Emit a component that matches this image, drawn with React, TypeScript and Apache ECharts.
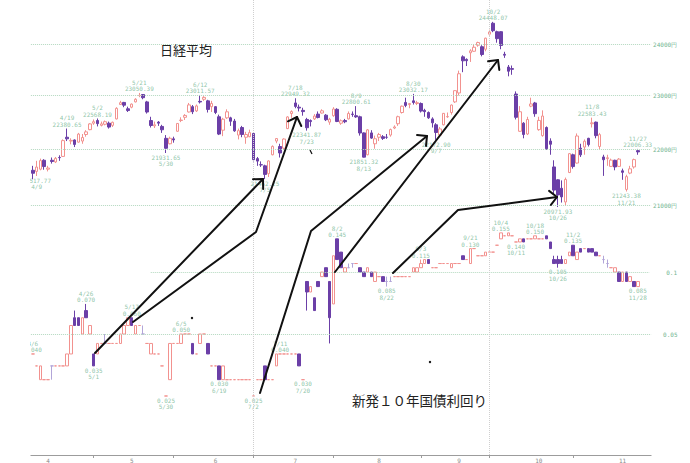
import React, { useEffect, useRef } from 'react';
import * as echarts from 'echarts';

// Trading days (categories)
const dates = [
  '4/6','4/9','4/10','4/11','4/12','4/13','4/16','4/17','4/18','4/19','4/20','4/23','4/24','4/25','4/26','4/27',
  '5/1','5/2','5/7','5/8','5/9','5/10','5/11','5/14','5/15','5/16','5/17','5/18','5/21','5/22','5/23','5/24','5/25','5/28','5/29','5/30','5/31',
  '6/1','6/4','6/5','6/6','6/7','6/8','6/11','6/12','6/13','6/14','6/15','6/18','6/19','6/20','6/21','6/22','6/25','6/26','6/27','6/28','6/29',
  '7/2','7/3','7/4','7/5','7/6','7/9','7/10','7/11','7/12','7/13','7/17','7/18','7/19','7/20','7/23','7/24','7/25','7/26','7/27','7/30','7/31',
  '8/1','8/2','8/3','8/6','8/7','8/8','8/9','8/10','8/13','8/14','8/15','8/16','8/17','8/20','8/21','8/22','8/23','8/24','8/27','8/28','8/29','8/30','8/31',
  '9/3','9/4','9/5','9/6','9/7','9/10','9/11','9/12','9/13','9/14','9/18','9/19','9/20','9/21','9/25','9/26','9/27','9/28',
  '10/1','10/2','10/3','10/4','10/5','10/9','10/10','10/11','10/12','10/15','10/16','10/17','10/18','10/19','10/22','10/23','10/24','10/25','10/26','10/29','10/30','10/31',
  '11/1','11/2','11/5','11/6','11/7','11/8','11/9','11/12','11/13','11/14','11/15','11/16','11/19','11/20','11/21','11/22','11/26','11/27','11/28','11/29','11/30',
];

// Nikkei 225 daily [open, close, low, high]
const nikkeiCandles = [
  [21620,21567,21460,21700],[21600,21678,21517.77,21790],[21640,21794,21620,21830],[21800,21687,21630,21820],
  [21640,21660,21600,21700],[21800,21778,21740,21850],[21770,21835,21750,21860],[21850,21847,21790,21890],
  [21870,22158,21860,22180],[22220,22191,22150,22380.65],[22150,22162,22090,22200],[22170,22088,22040,22180],
  [22130,22278,22120,22300],[22150,22215,22100,22280],[22270,22319,22230,22350],[22360,22467,22350,22480],
  // May
  [22480,22508,22450,22550],[22530,22472,22420,22568.19],[22440,22467,22420,22510],[22460,22508,22440,22530],
  [22480,22408,22380,22510],[22440,22497,22410,22510],[22560,22758,22550,22780],[22830,22865,22830,22900],
  [22870,22818,22780,22880],[22750,22717,22690,22790],[22780,22838,22760,22850],[22880,22930,22870,22950],
  [23000,23002,22970,23050.39],[23020,22960,22930,23030],[22880,22689,22660,22900],[22530,22437,22400,22600],
  [22430,22450,22390,22510],[22500,22481,22430,22520],[22420,22358,22300,22450],[22200,22018,21931.65,22260],
  [22100,22201,22090,22230],
  // June
  [22190,22171,22120,22230],[22330,22475,22320,22480],[22530,22539,22500,22590],[22590,22625,22540,22650],
  [22690,22823,22680,22860],[22790,22694,22650,22820],[22710,22804,22690,22830],[22890,22878,22850,23011.57],
  [22930,22966,22900,22990],[22900,22738,22680,22920],[22790,22851,22690,22900],[22790,22680,22650,22800],
  [22600,22278,22260,22640],[22350,22555,22240,22580],[22580,22693,22560,22740],[22580,22516,22430,22600],
  [22520,22338,22320,22560],[22260,22342,22180,22380],[22400,22271,22220,22430],[22220,22270,22100,22320],
  [22230,22305,22220,22360],
  // July
  [22290,21811,21780,22300],[21830,21785,21700,21860],[21720,21717,21680,21780],[21700,21546,21462.25,21720],
  [21560,21788,21500,21800],[21900,22052,21890,22070],[22150,22196,22110,22200],[22050,21932,21850,22100],
  [22020,22187,21990,22200],[22380,22597,22370,22610],[22660,22697,22580,22720],[22860,22794,22760,22949.32],
  [22780,22764,22700,22830],[22720,22697,22620,22770],[22550,22396,22341.87,22580],[22530,22510,22420,22550],
  [22560,22614,22540,22650],[22650,22586,22570,22700],[22670,22712,22660,22740],[22630,22544,22520,22650],
  [22500,22553,22450,22580],
  // August
  [22620,22746,22600,22780],[22740,22512,22500,22760],[22480,22525,22450,22550],[22530,22507,22480,22560],
  [22560,22662,22550,22700],[22650,22644,22600,22700],[22620,22598,22580,22800.61],[22600,22298,22250,22620],
  [22300,21857,21851.32,22310],[21900,22356,21890,22370],[22300,22204,22190,22350],[22100,22192,22010,22250],
  [22220,22270,22150,22300],[22230,22199,22170,22260],[22220,22219,22190,22280],[22260,22362,22230,22380],
  [22390,22410,22370,22440],[22470,22601,22430,22620],[22680,22799,22660,22810],[22870,22813,22780,22960],
  [22830,22848,22760,22860],[22900,22869,22830,23032.17],[22850,22865,22820,22900],
  // September
  [22850,22707,22680,22870],[22720,22696,22600,22750],[22680,22580,22560,22700],[22560,22487,22400,22590],
  [22450,22307,22172.90,22480],[22260,22373,22230,22410],[22450,22664,22440,22670],[22600,22604,22580,22680],
  [22680,22821,22640,22830],[22880,23094,22860,23100],[23050,23420,23000,23480],[23750,23672,23450,23780],
  [23700,23674,23570,23720],[23830,23869,23650,23900],[23860,23940,23850,24000],[23980,24033,23950,24050],
  [23950,23796,23760,23980],[23900,24120,23860,24130],
  // October
  [24200,24245,24170,24290],[24420,24270,24240,24448.07],[24250,24110,24030,24270],[24250,23975,23900,24260],
  [23800,23783,23730,23850],[23550,23469,23370,23590],[23520,23506,23400,23580],[23030,22590,22550,23080],
  [22330,22694,22320,22800],[22480,22271,22200,22500],[22280,22549,22260,22600],[22800,22841,22780,22960],
  [22860,22658,22600,22880],[22360,22532,22340,22600],[22250,22614,22230,22720],[22400,22010,21990,22420],
  [22150,22091,21900,22200],[21680,21268,21200,21800],[21450,21184,20971.93,21460],[21300,21149,21050,21440],
  [21060,21457,20990,21490],[21580,21920,21570,21930],
  // November
  [21900,21687,21650,21920],[21750,22243,21740,22290],[22020,21898,21860,22100],[22040,22147,21900,22180],
  [22200,22085,22050,22210],[22470,22486,22400,22583.43],[22500,22250,22200,22510],[22050,22269,22000,22300],
  [21860,21810,21520,21900],[21830,21846,21700,21900],[21690,21803,21680,21830],[21800,21680,21620,21810],
  [21690,21821,21680,21840],[21610,21583,21450,21650],[21280,21507,21243.38,21540],[21570,21646,21550,21700],
  [21680,21812,21650,21830],[21975,21952,21900,22006.33],
];

// New 10-year JGB yield daily [open, close, low, high]
const jgbCandles = [
  // April
  [0.040,0.040,0.040,0.040],[0.035,0.035,0.035,0.035],[0.030,0.035,0.030,0.035],[0.030,0.030,0.030,0.030],
  [0.030,0.030,0.030,0.030],[0.035,0.035,0.030,0.035],[0.035,0.035,0.035,0.035],[0.035,0.035,0.035,0.035],
  [0.035,0.035,0.035,0.035],[0.035,0.040,0.035,0.040],[0.040,0.055,0.040,0.055],[0.060,0.055,0.055,0.065],
  [0.060,0.055,0.055,0.060],[0.050,0.060,0.050,0.060],[0.065,0.060,0.060,0.070],[0.050,0.055,0.050,0.055],
  // May
  [0.040,0.035,0.035,0.040],[0.040,0.045,0.040,0.045],[0.045,0.045,0.045,0.045],[0.045,0.045,0.045,0.050],
  [0.045,0.045,0.045,0.045],[0.045,0.045,0.045,0.045],[0.045,0.045,0.045,0.045],[0.045,0.050,0.045,0.050],
  [0.050,0.055,0.050,0.055],[0.055,0.060,0.055,0.060],[0.060,0.055,0.055,0.060],[0.050,0.055,0.050,0.055],
  [0.055,0.055,0.055,0.055],[0.050,0.050,0.050,0.055],[0.045,0.045,0.045,0.045],[0.040,0.045,0.040,0.045],
  [0.040,0.040,0.040,0.040],[0.040,0.040,0.040,0.040],[0.035,0.035,0.035,0.035],[0.025,0.025,0.025,0.025],
  [0.030,0.045,0.030,0.045],
  // June
  [0.045,0.045,0.045,0.045],[0.045,0.045,0.045,0.045],[0.045,0.050,0.045,0.050],[0.050,0.050,0.050,0.050],
  [0.050,0.050,0.050,0.050],[0.045,0.040,0.040,0.045],[0.040,0.040,0.040,0.040],[0.045,0.050,0.045,0.050],
  [0.050,0.050,0.050,0.050],[0.045,0.040,0.040,0.045],[0.035,0.035,0.035,0.035],[0.035,0.035,0.035,0.035],
  [0.035,0.030,0.030,0.035],[0.030,0.035,0.030,0.035],[0.030,0.030,0.030,0.030],[0.030,0.030,0.030,0.030],
  [0.030,0.030,0.030,0.030],[0.030,0.030,0.030,0.030],[0.030,0.030,0.030,0.030],[0.030,0.030,0.030,0.030],
  [0.030,0.030,0.030,0.030],
  // July
  [0.025,0.025,0.025,0.025],[0.030,0.030,0.030,0.030],[0.030,0.030,0.030,0.030],[0.035,0.030,0.030,0.035],
  [0.030,0.030,0.030,0.030],[0.030,0.030,0.030,0.030],[0.035,0.040,0.035,0.040],[0.040,0.040,0.040,0.040],
  [0.040,0.040,0.040,0.040],[0.040,0.040,0.040,0.040],[0.040,0.040,0.040,0.040],[0.040,0.040,0.040,0.040],
  [0.040,0.035,0.035,0.040],[0.030,0.030,0.030,0.030],[0.090,0.080,0.065,0.090],[0.080,0.085,0.080,0.085],
  [0.075,0.065,0.065,0.075],[0.090,0.085,0.085,0.090],[0.095,0.100,0.095,0.100],[0.105,0.095,0.095,0.105],
  [0.090,0.060,0.045,0.090],
  // August
  [0.070,0.120,0.070,0.120],[0.145,0.115,0.115,0.145],[0.125,0.105,0.105,0.125],[0.100,0.105,0.100,0.105],
  [0.105,0.105,0.105,0.110],[0.110,0.110,0.105,0.110],[0.110,0.110,0.110,0.110],[0.105,0.100,0.100,0.105],
  [0.100,0.095,0.095,0.100],[0.100,0.105,0.100,0.105],[0.100,0.095,0.095,0.100],[0.090,0.100,0.090,0.100],
  [0.095,0.095,0.095,0.095],[0.095,0.090,0.090,0.095],[0.090,0.090,0.085,0.095],[0.090,0.090,0.090,0.095],
  [0.095,0.095,0.095,0.095],[0.095,0.095,0.095,0.095],[0.095,0.095,0.095,0.095],[0.095,0.095,0.095,0.095],
  [0.095,0.095,0.095,0.095],[0.100,0.105,0.100,0.105],[0.100,0.105,0.100,0.105],
  // September
  [0.105,0.110,0.105,0.115],[0.110,0.115,0.110,0.115],[0.115,0.110,0.110,0.115],[0.105,0.105,0.105,0.105],
  [0.105,0.105,0.105,0.105],[0.110,0.110,0.110,0.110],[0.110,0.110,0.110,0.110],[0.110,0.110,0.110,0.110],
  [0.105,0.110,0.105,0.110],[0.110,0.110,0.110,0.110],[0.110,0.110,0.110,0.110],[0.120,0.115,0.115,0.120],
  [0.115,0.115,0.115,0.115],[0.110,0.130,0.110,0.130],[0.130,0.130,0.130,0.130],[0.120,0.120,0.120,0.120],
  [0.120,0.120,0.120,0.120],[0.120,0.125,0.120,0.125],
  // October
  [0.125,0.125,0.125,0.125],[0.125,0.125,0.125,0.125],[0.135,0.135,0.135,0.135],[0.145,0.155,0.145,0.155],
  [0.150,0.150,0.150,0.150],[0.150,0.155,0.150,0.155],[0.150,0.150,0.150,0.150],[0.140,0.140,0.140,0.140],
  [0.140,0.145,0.140,0.145],[0.145,0.140,0.140,0.145],[0.145,0.145,0.145,0.145],[0.145,0.145,0.145,0.145],
  [0.145,0.150,0.145,0.150],[0.145,0.145,0.145,0.145],[0.145,0.145,0.145,0.145],[0.150,0.145,0.145,0.150],
  [0.140,0.130,0.130,0.140],[0.115,0.110,0.110,0.120],[0.115,0.110,0.105,0.120],[0.115,0.110,0.110,0.120],
  [0.110,0.115,0.110,0.115],[0.120,0.125,0.120,0.125],
  // November
  [0.135,0.120,0.120,0.135],[0.115,0.125,0.115,0.125],[0.130,0.125,0.125,0.130],[0.130,0.130,0.130,0.130],
  [0.130,0.125,0.125,0.130],[0.130,0.125,0.125,0.130],[0.125,0.120,0.120,0.125],[0.120,0.120,0.120,0.120],
  [0.115,0.115,0.110,0.120],[0.110,0.110,0.105,0.115],[0.105,0.105,0.105,0.105],[0.100,0.105,0.100,0.105],
  [0.100,0.090,0.090,0.100],[0.090,0.100,0.090,0.100],[0.100,0.090,0.090,0.100],[0.090,0.095,0.090,0.095],
  [0.090,0.085,0.085,0.090],[0.085,0.090,0.085,0.090],
];

// Annotated highs / lows
const nikkeiHighDates = ['4/19','5/2','5/21','6/12','7/18','8/9','8/30','10/2','11/8','11/27'];
const nikkeiHighValues = [22380.65,22568.19,23050.39,23011.57,22949.32,22800.61,23032.17,24448.07,22583.43,22006.33];
const nikkeiLowDates = ['4/9','5/30','7/5','7/23','8/13','9/7','10/26','11/21'];
const nikkeiLowValues = [21517.77,21931.65,21462.25,22341.87,21851.32,22172.90,20971.93,21243.38];

const jgbHighAt = ['4/6','4/26','5/17','6/5','7/11','8/2','9/3','9/21','10/4','10/18','11/1'];
const jgbHighText = ['4/6','4/26','5/17','6/5','7/11','8/2','9/3','9/21','10/4','10/18','11/2'];
const jgbHighValues = [0.040,0.070,0.060,0.050,0.040,0.145,0.115,0.130,0.155,0.150,0.135];
const jgbLowAt = ['5/1','5/30','6/19','7/2','7/20','8/21','10/11','10/26','11/27'];
const jgbLowText = ['5/1','5/30','6/19','7/2','7/20','8/22','10/11','10/26','11/28'];
const jgbLowValues = [0.035,0.025,0.030,0.025,0.030,0.085,0.140,0.105,0.085];

const nikkeiTicks = [21000, 22000, 23000, 24000];
const jgbTicks = [0.05, 0.1];
const quarterLines = ['7/2', '10/1'];
const monthLabelDates = ['4/12','5/17','6/18','7/18','8/17','9/18','10/19','11/20'];

const PINK = '#f2928f';
const PURPLE = '#6b3fa7';
const LAVENDER = '#b2a5d8';
const GREEN = '#72b591';
const GRIDC = '#b3d8bf';
const MONO = 'DejaVu Sans Mono';

const arrows = [
  [[95, 353], [263, 179]],
  [[133, 322], [256, 232], [297, 117]],
  [[260, 393], [311, 231], [427, 136]],
  [[335, 272], [498, 60]],
  [[393, 273], [458, 210], [557, 197]],
];

function arrowElements(pts: number[][]) {
  const tip = pts[pts.length - 1];
  const prev = pts[pts.length - 2];
  const back = Math.atan2(prev[1] - tip[1], prev[0] - tip[0]);
  const L = 10;
  const a1 = back + Math.PI / 4;
  const a2 = back - Math.PI / 4;
  const head = [
    [tip[0] + L * Math.cos(a1), tip[1] + L * Math.sin(a1)],
    tip,
    [tip[0] + L * Math.cos(a2), tip[1] + L * Math.sin(a2)],
  ];
  const style = { stroke: '#111', lineWidth: 2, fill: null, lineJoin: 'round', lineCap: 'round' };
  return [
    { type: 'polyline', z: 100, shape: { points: pts }, style },
    { type: 'polyline', z: 100, shape: { points: head }, style },
  ];
}

export default function App() {
  const ref = useRef<HTMLDivElement>(null);
  useEffect(() => {
    const chart = echarts.init(ref.current!, undefined, { renderer: 'svg' });

    const nkData = nikkeiCandles.map((c) => ({ value: c }));
    const jgbData = jgbCandles.map((c) => {
      if (c[0] === c[1]) {
        const col = c[2] === c[3] ? PINK : LAVENDER;
        return { value: c, itemStyle: { borderColor: col, borderColor0: col } };
      }
      return { value: c };
    });

    const lblBase = { fontFamily: MONO, fontSize: 6, lineHeight: 6.5, color: GREEN, distance: 1 };

    const nkLabels = [
      ...nikkeiHighDates.map((d, i) => ({
        value: [d, nikkeiHighValues[i]],
        label: { ...lblBase, position: 'top', formatter: d + '\n' + nikkeiHighValues[i].toFixed(2) },
      })),
      ...nikkeiLowDates.map((d, i) => ({
        value: [d, nikkeiLowValues[i]],
        label: { ...lblBase, position: 'bottom', formatter: nikkeiLowValues[i].toFixed(2) + '\n' + d },
      })),
    ];
    const jgbLabels = [
      ...jgbHighAt.map((d, i) => ({
        value: [d, jgbHighValues[i]],
        label: { ...lblBase, position: 'top', formatter: jgbHighText[i] + '\n' + jgbHighValues[i].toFixed(3) },
      })),
      ...jgbLowAt.map((d, i) => ({
        value: [d, jgbLowValues[i]],
        label: { ...lblBase, position: 'bottom', formatter: jgbLowValues[i].toFixed(3) + '\n' + jgbLowText[i] },
      })),
    ];

    const axisLblStyle = { fontFamily: MONO, fontSize: 6, color: GREEN };
    const hLine = { type: 'dotted', color: GRIDC, width: 1 };
    const vLine = { type: 'dotted', color: '#cfcfcf', width: 1 };

    const monthStart = new Set<number>();
    dates.forEach((d, i) => {
      if (i > 0 && d.split('/')[0] !== dates[i - 1].split('/')[0]) monthStart.add(i);
    });

    const last = dates[dates.length - 1];

    const option = {
      animation: false,
      backgroundColor: '#ffffff',
      grid: [
        { left: 30.9, top: 0, width: 620.2, height: 215 },
        { left: 30.9, top: 215, width: 620.2, height: 244 },
      ],
      xAxis: [
        { type: 'category', gridIndex: 0, data: dates, boundaryGap: true, show: false },
        {
          type: 'category', gridIndex: 1, data: dates, boundaryGap: true,
          axisLine: { show: true, lineStyle: { color: '#9c9c9c', width: 1 } },
          axisTick: {
            show: true, alignWithLabel: true, length: 3,
            interval: (i: number) => monthStart.has(i),
            lineStyle: { color: '#9c9c9c' },
          },
          axisLabel: {
            interval: (_i: number, v: string) => monthLabelDates.includes(v),
            formatter: (v: string) => v.split('/')[0],
            fontSize: 6, color: '#8a8a8a', margin: 2, fontFamily: MONO,
          },
          splitLine: { show: false },
        },
      ],
      yAxis: [
        { type: 'log', logBase: 10, gridIndex: 0, min: 20834, max: 24895, show: false, splitLine: { show: false } },
        { type: 'log', logBase: 10, gridIndex: 1, min: 0.01292, max: 0.1893, show: false, splitLine: { show: false } },
      ],
      series: [
        {
          type: 'scatter', xAxisIndex: 0, yAxisIndex: 0, symbolSize: 0, z: 1, silent: true,
          data: [],
          markLine: {
            silent: true, symbol: ['none', 'none'], animation: false,
            data: [
              ...nikkeiTicks.map((v) => ({
                yAxis: v, lineStyle: hLine,
                label: { show: true, position: 'end', distance: 2, formatter: v + '円', ...axisLblStyle },
              })),
              ...quarterLines.map((d) => ({ xAxis: d, lineStyle: vLine, label: { show: false } })),
            ],
          },
        },
        {
          type: 'scatter', xAxisIndex: 1, yAxisIndex: 1, symbolSize: 0, z: 1, silent: true,
          data: [],
          markLine: {
            silent: true, symbol: ['none', 'none'], animation: false,
            data: [
              {
                yAxis: jgbTicks[0], lineStyle: hLine,
                label: { show: true, position: 'end', distance: 12, formatter: '0.05', ...axisLblStyle },
              },
              [
                { coord: ['5/24', jgbTicks[1]], lineStyle: hLine,
                  label: { show: true, position: 'end', distance: 17, formatter: '0.1', ...axisLblStyle } },
                { coord: [last, jgbTicks[1]] },
              ],
              ...quarterLines.map((d) => ({ xAxis: d, lineStyle: vLine, label: { show: false } })),
            ],
          },
        },
        {
          type: 'candlestick', name: '日経平均', xAxisIndex: 0, yAxisIndex: 0, barWidth: 3, z: 3,
          itemStyle: { color: '#ffffff', color0: PURPLE, borderColor: PINK, borderColor0: PURPLE, borderWidth: 1 },
          data: nkData,
        },
        {
          type: 'candlestick', name: '新発10年国債利回り', xAxisIndex: 1, yAxisIndex: 1, barWidth: 3, z: 3,
          itemStyle: { color: '#ffffff', color0: PURPLE, borderColor: PINK, borderColor0: PURPLE, borderWidth: 1 },
          data: jgbData,
        },
        {
          type: 'scatter', xAxisIndex: 0, yAxisIndex: 0, symbolSize: 0, z: 4, silent: true,
          label: { show: true }, data: nkLabels,
        },
        {
          type: 'scatter', xAxisIndex: 1, yAxisIndex: 1, symbolSize: 0, z: 4, silent: true,
          label: { show: true }, data: jgbLabels,
        },
      ],
      graphic: [
        { type: 'rect', z: 90, shape: { x: 0, y: 0, width: 30, height: 463 }, style: { fill: '#ffffff' } },
        {
          type: 'text', z: 100, left: 160, top: 43,
          style: { text: '日経平均', font: '13px "Noto Sans CJK JP"', fill: '#222' },
        },
        {
          type: 'text', z: 100, left: 352, top: 393,
          style: { text: '新発１０年国債利回り', font: '13.5px "Noto Sans CJK JP"', fill: '#222' },
        },
        ...arrows.flatMap((a) => arrowElements(a)),
        { type: 'circle', z: 100, shape: { cx: 192, cy: 318, r: 1.2 }, style: { fill: '#111' } },
        { type: 'circle', z: 100, shape: { cx: 430, cy: 362, r: 1.2 }, style: { fill: '#111' } },
        { type: 'line', z: 100, shape: { x1: 310, y1: 150, x2: 312, y2: 154 }, style: { stroke: '#111', lineWidth: 1.2 } },
      ],
    };

    chart.setOption(option as any);
    return () => chart.dispose();
  }, []);
  return (
    <div
      ref={ref}
      style={{ position: 'absolute', left: 0, top: 0, width: 690, height: 463, background: '#fff' }}
    />
  );
}
